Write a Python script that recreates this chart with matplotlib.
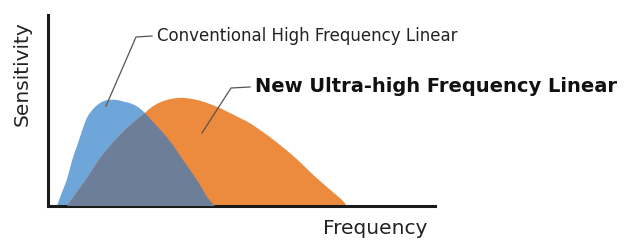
import matplotlib
matplotlib.use('Agg')
import matplotlib.pyplot as plt
from matplotlib.path import Path
from matplotlib.patches import PathPatch

# Kurven, Einheiten: Frequenz / Empfindlichkeit in Bildpunkten ab Achsenursprung
conv_freq = [9, 10, 14, 19, 22, 25, 29, 32, 36, 39, 44, 49, 55, 62, 70, 77, 82,
             89, 95, 97, 107, 119, 127, 135, 142, 149, 155, 159, 163, 167]
conv_sens = [0, 3, 14, 26, 38, 49, 60, 69, 81, 89, 96, 101, 105, 106.5, 106, 104,
             103, 100, 95, 93, 82, 69, 58, 46, 36, 26, 16, 9, 4, 0]

new_freq = [19, 27, 37, 47, 52, 62, 72, 82, 92, 97, 102, 112, 122, 132, 142, 152,
            162, 172, 182, 192, 202, 212, 222, 232, 242, 252, 262, 272, 279, 287,
            292, 296, 299]
new_sens = [0, 11, 25, 40, 48, 60, 71, 81, 89, 93, 98, 104, 107, 108.5, 107.5,
            105.5, 102, 98, 93, 88, 83, 76, 69, 61, 53, 44, 34, 25, 19, 12, 8, 4, 0]

labels = ["Conventional High Frequency Linear", "New Ultra-high Frequency Linear"]

BLUE = "#6fa6da"
ORANGE = "#ec8a3e"
OVERLAP = "#6d7e98"


def glatte_flaeche(xs, ys):
    # quadratische Bezier-Segmente durch die Mittelpunkte -> weiche Kontur
    pts = list(zip(xs, ys))
    verts = [pts[0]]
    codes = [Path.MOVETO]
    for i in range(1, len(pts) - 1):
        mid = ((pts[i][0] + pts[i + 1][0]) / 2, (pts[i][1] + pts[i + 1][1]) / 2)
        verts += [pts[i], mid]
        codes += [Path.CURVE3, Path.CURVE3]
    verts += [pts[-1], pts[0]]
    codes += [Path.LINETO, Path.CLOSEPOLY]
    return Path(verts, codes)


fig = plt.figure(figsize=(6.33, 2.4), dpi=100)
ax = fig.add_axes([48 / 633, 34 / 240, 387 / 633, 191 / 240])
ax.set_xlim(0, 387)
ax.set_ylim(0, 191)

path_a = glatte_flaeche(conv_freq, conv_sens)
path_b = glatte_flaeche(new_freq, new_sens)

pa = PathPatch(path_a, facecolor=BLUE, edgecolor="none", zorder=2)
pb = PathPatch(path_b, facecolor=ORANGE, edgecolor="none", zorder=2)
ax.add_patch(pa)
ax.add_patch(pb)
# Überlappung
po = PathPatch(path_a, facecolor=OVERLAP, edgecolor="none", zorder=3)
ax.add_patch(po)
po.set_clip_path(pb)

# Achsen
for s in ["top", "right"]:
    ax.spines[s].set_visible(False)
for s in ["left", "bottom"]:
    ax.spines[s].set_linewidth(2.2)
    ax.spines[s].set_color("#1a1a1a")
ax.set_xticks([])
ax.set_yticks([])

# Beschriftungen mit Hinweislinien
lc = "#555555"
ax.plot([104, 88, 58], [170, 169, 100], color=lc, lw=0.9, clip_on=False, zorder=4)
ax.text(109, 170, labels[0], fontsize=12, va="center", ha="left", color="#222222")
ax.plot([202, 183, 154], [119, 118, 73], color=lc, lw=0.9, clip_on=False, zorder=4)
ax.text(207, 119, labels[1], fontsize=14, fontweight="bold", va="center",
        ha="left", color="#111111")

fig.text(22 / 633, 1 - 74 / 240, "Sensitivity", rotation=90, fontsize=14.5,
         ha="center", va="center", color="#222222")
fig.text(375 / 633, 1 - 228 / 240, "Frequency", fontsize=14.5,
         ha="center", va="center", color="#222222")

fig.savefig("out.png", dpi=100)
plt.close(fig)
